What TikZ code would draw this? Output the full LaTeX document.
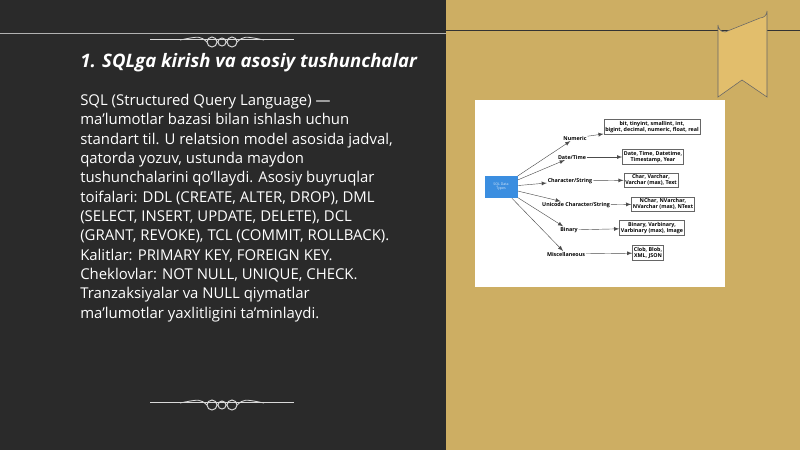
\documentclass[tikz,border=0pt]{standalone}
\usepackage{fontspec}
\setmainfont{Open Sans}[Ligatures=ResetAll]
\usetikzlibrary{positioning}
\definecolor{panel}{HTML}{2A2A2A}
\definecolor{gold}{HTML}{CDAE63}
\definecolor{ribbon}{HTML}{E2BE6C}
\definecolor{typeblue}{HTML}{3B8EE0}
\begin{document}
\begin{tikzpicture}[x=0.025cm,y=-0.025cm]
\tikzset{cat/.style={font=\fontsize{3.8}{4.4}\selectfont\bfseries, inner sep=0.5pt, fill=white},
  leaf/.style={draw=black!60, fill=white, font=\fontsize{3.8}{4.6}\selectfont\bfseries, align=center, inner sep=1pt},
  link/.style={-latex, black!70, line width=0.3pt}}
\useasboundingbox (0,0) rectangle (800,450);
% panels
\fill[panel] (0,0) rectangle (446,450);
\fill[gold] (446,0) rectangle (800,450);
\draw[black!80, line width=0.5pt] (446,30) -- (800,30);
\draw[white!70!black, line width=0.6pt] (0,33) -- (446,33);
% ribbon
\fill[black!85] (738,30) arc (180:0:12) -- cycle;
\draw[black!60, fill=ribbon] (718,97) -- (718,25) arc (180:90:7) -- (760,18) arc (90:0:7) -- (767,97) -- (742,80) -- cycle;
% ornaments
\foreach \yy in {42,405} {
  \draw[white!85!black, line width=0.7pt] (222,\yy) circle (4) (212,\yy) circle (5) (232,\yy) circle (5);
  \draw[white!85!black, line width=0.6pt] (180,\yy-2) .. controls (200,\yy-6) .. (207,\yy) (264,\yy-2) .. controls (244,\yy-6) .. (237,\yy);
  \draw[white!85!black, line width=0.4pt] (150,\yy-3) -- (294,\yy-3);
}
% text
\node[anchor=west, text=white, inner sep=0pt, font=\fontsize{13.2}{15}\selectfont\bfseries\itshape] (title) at (80,63) {1. SQLga kirish va asosiy tushunchalar};
\node[anchor=north west, text=white, align=left, inner sep=0pt, font=\fontsize{10.6}{13.75}\selectfont] (body) at (80,94) {SQL (Structured Query Language) —\\ma'lumotlar bazasi bilan ishlash uchun\\standart til. U relatsion model asosida jadval,\\qatorda yozuv, ustunda maydon\\tushunchalarini qo'llaydi. Asosiy buyruqlar\\toifalari: DDL (CREATE, ALTER, DROP), DML\\(SELECT, INSERT, UPDATE, DELETE), DCL\\(GRANT, REVOKE), TCL (COMMIT, ROLLBACK).\\Kalitlar: PRIMARY KEY, FOREIGN KEY.\\Cheklovlar: NOT NULL, UNIQUE, CHECK.\\Tranzaksiyalar va NULL qiymatlar\\ma'lumotlar yaxlitligini ta'minlaydi.};
% diagram
\fill[white] (475,100) rectangle (725,287);
\node[fill=typeblue, minimum width=33*0.025cm, minimum height=22*0.025cm, text=white!80!typeblue, font=\fontsize{2.5}{3}\selectfont, align=center] (src) at (501,187) {SQL Data\\Types};
\node[cat] (num) at (575,138) {Numeric};
\node[cat] (dt) at (572,157) {Date/Time};
\node[cat] (chr) at (570,181) {Character/String};
\node[cat] (uni) at (576,205) {Unicode Character/String};
\node[cat] (bin) at (569,230) {Binary};
\node[cat] (misc) at (566,254) {Miscellaneous};
\node[leaf] (lnum) at (652,127) {bit, tinyint, smallint, int,\\bigint, decimal, numeric, float, real};
\node[leaf] (ldt) at (653,157) {Date, Time, Datetime,\\Timestamp, Year};
\node[leaf] (lchr) at (651,180) {Char, Varchar,\\Varchar (max), Text};
\node[leaf] (luni) at (663,204) {NChar, NVarchar,\\NVarchar (max), NText};
\node[leaf] (lbin) at (652,228) {Binary, Varbinary,\\Varbinary (max), Image};
\node[leaf] (lmisc) at (648,253) {Clob, Blob,\\XML, JSON};
\foreach \c in {num,dt,chr,uni,bin,misc} \draw[link] (src) -- (\c);
\draw[link] (num) -- (lnum);
\draw[link] (dt) -- (ldt);
\draw[link] (chr) -- (lchr);
\draw[link] (uni) -- (luni);
\draw[link] (bin) -- (lbin);
\draw[link] (misc) -- (lmisc);
\end{tikzpicture}
\end{document}
